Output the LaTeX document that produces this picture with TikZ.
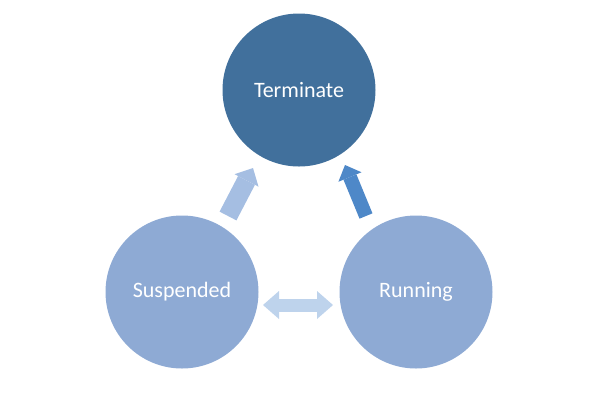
\documentclass[tikz,border=0pt]{standalone}
\usepackage{fontspec}
\newfontfamily\statefont{Carlito}
\usetikzlibrary{arrows.meta,calc}
\definecolor{termblue}{HTML}{41709C}
\definecolor{stateblue}{HTML}{8EAAD4}
\definecolor{leftblue}{HTML}{A5BEE2}
\definecolor{rightblue}{HTML}{4E88C8}
\definecolor{pairblue}{HTML}{BED3EC}

\begin{document}
\begin{tikzpicture}[x=1pt, y=-1pt,
		state/.style={circle, minimum size=153pt, inner sep=0pt, text=white, font=\statefont\fontsize{22}{26}\selectfont}]
		\useasboundingbox (0, 0) rectangle (600, 392);
		\node [state, fill=termblue] (term) at (299, 90) {Terminate};
		\node [state, fill=stateblue] (sus) at (182, 292) {Suspended};
		\node [state, fill=stateblue] (run) at (416, 292) {Running};
		\draw [leftblue, line width=19pt, -{Triangle[length=14pt, width=27pt, line width=0pt]}] ($(sus)+(46, -76)$) -- ($(term)+(-46, 78)$);
		\draw [rightblue, line width=14pt, -{Triangle[length=13pt, width=25pt, line width=0pt]}] ($(run)+(-50, -76)$) -- ($(term)+(46, 75)$);
		\draw [pairblue, line width=13pt, {Triangle[length=16pt, width=28pt, line width=0pt]}-{Triangle[length=16pt, width=28pt, line width=0pt]}] ($(sus)+(81, 13)$) -- ($(run)+(-83, 13)$);
	\end{tikzpicture}
\end{document}
